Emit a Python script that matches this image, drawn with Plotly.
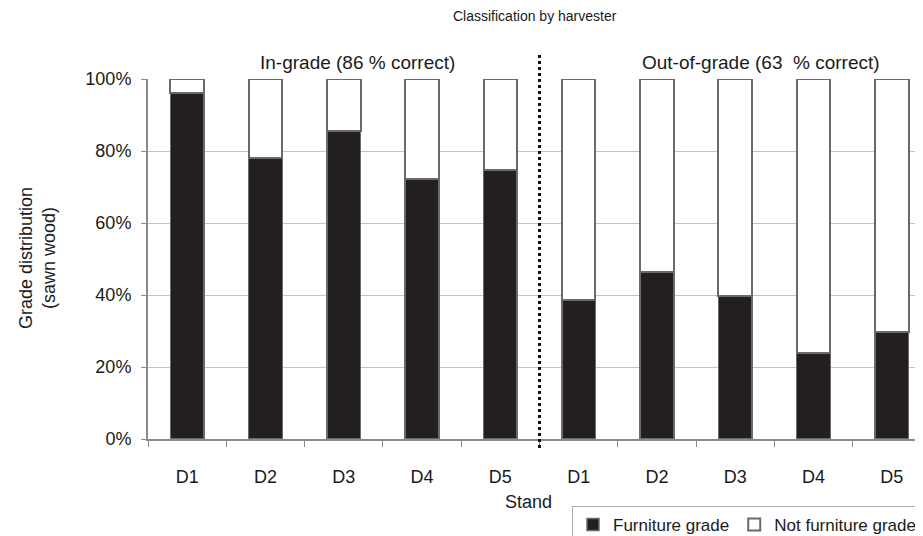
import plotly.graph_objects as go

x_pos = list(range(10))
stand_labels = ["D1", "D2", "D3", "D4", "D5", "D1", "D2", "D3", "D4", "D5"]
furniture = [0.961, 0.781, 0.856, 0.722, 0.747, 0.386, 0.463, 0.396, 0.238, 0.296]
not_furniture = [1 - v for v in furniture]
y_ticks = [0, 0.2, 0.4, 0.6, 0.8, 1.0]

# the page body adds an 8px offset, so the figure is drawn smaller to fit the window
font_family = "Liberation Sans, Arial, sans-serif"
fig = go.Figure()
fig.add_trace(go.Bar(x=x_pos, y=furniture, name="Furniture grade", width=0.43,
                     marker=dict(color="#231f20", line=dict(color="#6a6a6a", width=1.5))))
fig.add_trace(go.Bar(x=x_pos, y=not_furniture, name="Not furniture grade", width=0.43,
                     marker=dict(color="#ffffff", line=dict(color="#6a6a6a", width=2))))

PW = 767  # plot width in px
fig.update_layout(
    width=907, height=528, barmode="stack",
    margin=dict(l=140, r=0, t=71, b=97, autoexpand=False),
    plot_bgcolor="white", paper_bgcolor="white",
    font=dict(family=font_family, size=18, color="#1a1a1a"),
    showlegend=True,
    legend=dict(orientation="h", x=(572 - 148) / PW, xanchor="left", y=(439 - 506) / 360, yanchor="top",
                bordercolor="#aaaaaa", borderwidth=1, traceorder="normal",
                font=dict(size=17), itemwidth=30, tracegroupgap=0),
    xaxis=dict(range=[-0.5, 9.296], tickmode="array", tickvals=x_pos, ticktext=stand_labels,
               ticks="", showgrid=False, showline=True, linecolor="#8a8a8a", linewidth=2,
               ticklabelstandoff=20, zeroline=False,
               minor=dict(tickmode="linear", tick0=-0.5, dtick=1, ticks="outside",
                          ticklen=6, tickcolor="#8a8a8a", showgrid=False)),
    yaxis=dict(range=[0, 1], tickmode="array", tickvals=y_ticks,
               tickformat=".0%", ticks="outside", ticklen=5, tickcolor="#8a8a8a",
               showgrid=True, gridcolor="#c4c4c4", gridwidth=1,
               showline=True, linecolor="#8a8a8a", linewidth=2, zeroline=False,
               ticklabelstandoff=6),
)

fig.add_shape(type="line", xref="x", yref="paper", x0=4.5, x1=4.5, y0=-0.025, y1=1.067,
              line=dict(color="#111111", width=3, dash="dot"))

fig.add_annotation(text="Classification by harvester", xref="paper", yref="paper",
                   x=(535 - 148) / PW, y=(439 - 16) / 360, showarrow=False,
                   font=dict(size=14), xanchor="center", yanchor="middle")
fig.add_annotation(text="In-grade (86 % correct)", xref="paper", yref="paper",
                   x=(357 - 148) / PW, y=(439 - 63) / 360, showarrow=False,
                   font=dict(size=19), xanchor="center", yanchor="middle")
fig.add_annotation(text="Out-of-grade (63  % correct)", xref="paper", yref="paper",
                   x=(761 - 148) / PW, y=(439 - 63) / 360, showarrow=False,
                   font=dict(size=19), xanchor="center", yanchor="middle")
fig.add_annotation(text="Stand", xref="paper", yref="paper",
                   x=(528 - 148) / PW, y=(439 - 502) / 360, showarrow=False,
                   font=dict(size=18), xanchor="center", yanchor="middle")
fig.add_annotation(text="Grade distribution<br>(sawn wood)", xref="paper", yref="paper",
                   x=(37 - 148) / PW, y=(439 - 258) / 360, showarrow=False, textangle=-90,
                   font=dict(size=18), xanchor="center", yanchor="middle")

fig.write_html("out.html")
